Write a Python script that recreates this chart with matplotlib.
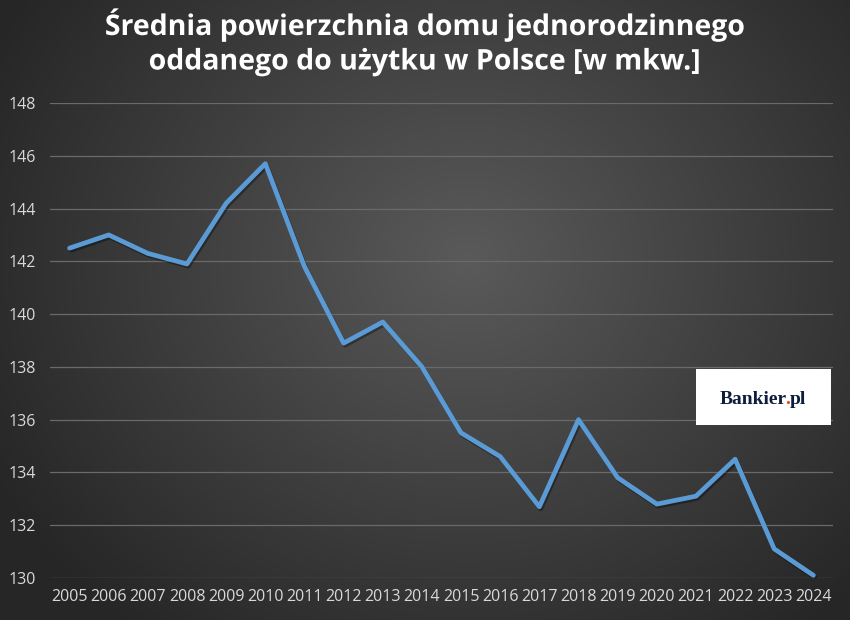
import numpy as np
import matplotlib
matplotlib.use("Agg")
import matplotlib.pyplot as plt
import matplotlib.patheffects as pe
from matplotlib.patches import Rectangle

years = ["2005", "2006", "2007", "2008", "2009", "2010", "2011", "2012", "2013", "2014",
         "2015", "2016", "2017", "2018", "2019", "2020", "2021", "2022", "2023", "2024"]
area = [142.5, 143.0, 142.3, 141.9, 144.2, 145.7, 141.8, 138.9, 139.7, 138.0,
        135.5, 134.6, 132.7, 136.0, 133.8, 132.8, 133.1, 134.5, 131.1, 130.1]
y_ticks = [130, 132, 134, 136, 138, 140, 142, 144, 146, 148]
title_lines = ["Średnia powierzchnia domu jednorodzinnego",
               "oddanego do użytku w Polsce [w mkw.]"]
logo_parts = ["Bankier", ".", "pl"]

W, H = 850, 620
fig = plt.figure(figsize=(W / 100, H / 100), dpi=100)

# radial gradient background
bg = fig.add_axes([0, 0, 1, 1], zorder=-10)
yy, xx = np.mgrid[0:H, 0:W]
cx, cy = W * 0.55, H * 0.42
r = np.sqrt(((xx - cx) / (W * 0.62)) ** 2 + ((yy - cy) / (H * 0.75)) ** 2)
r = np.clip(r, 0, 1)
c_in = np.array([0x5a, 0x5a, 0x5a]) / 255
c_out = np.array([0x27, 0x27, 0x27]) / 255
img = c_in[None, None, :] * (1 - r[..., None]) + c_out[None, None, :] * r[..., None]
bg.imshow(img, extent=[0, 1, 0, 1], aspect="auto", origin="upper")
bg.set_xlim(0, 1)
bg.set_ylim(0, 1)
bg.axis("off")

ax = fig.add_axes([50 / W, 1 - 578 / H, (833 - 50) / W, (578 - 103) / H])
ax.patch.set_alpha(0)
x = np.arange(len(years))
ax.plot(x, area, color="#5b9bd5", lw=3.4, solid_joinstyle="round", solid_capstyle="round",
        zorder=3,
        path_effects=[pe.SimpleLineShadow(offset=(1, -1.5), shadow_color="black", alpha=0.35),
                      pe.Normal()])
ax.set_xlim(-0.5, len(years) - 0.5)
ax.set_ylim(130, 148)
ax.set_yticks(y_ticks)
ax.set_yticklabels([str(v) for v in y_ticks])
ax.set_xticks(x)
ax.set_xticklabels(years)
ax.grid(axis="y", color="#6a6a6a", lw=0.9)
ax.set_axisbelow(True)
for s in ax.spines.values():
    s.set_visible(False)
ax.tick_params(length=0, colors="#d9d9d9", labelsize=11.5)
ax.tick_params(axis="y", pad=10)
ax.tick_params(axis="x", pad=8)
for lab in ax.get_xticklabels() + ax.get_yticklabels():
    lab.set_fontfamily("Open Sans")
    lab.set_color("#d9d9d9")

for line, ypx in zip(title_lines, [25, 62]):
    fig.text(0.5, 1 - ypx / H, line, ha="center", va="center",
             color="white", fontsize=20.5, fontweight="bold", fontfamily="Open Sans",
             path_effects=[pe.SimpleLineShadow(offset=(1.5, -1.5), alpha=0.5), pe.Normal()])

# logo box
fig.patches.append(Rectangle((696 / W, 1 - 425 / H), (831 - 696) / W, (425 - 369) / H,
                             transform=fig.transFigure, facecolor="white", edgecolor="none",
                             zorder=5))
fig.canvas.draw()
ren = fig.canvas.get_renderer()
kw = dict(fontsize=14, fontweight="bold", fontfamily="Liberation Serif", zorder=6,
          va="baseline", ha="left")


def width_of(s):
    tt = fig.text(0, 0, s, **kw)
    w = tt.get_window_extent(ren).width
    tt.remove()
    return w


full = "".join(logo_parts)
total = width_of(full)
x0 = 763 - total / 2
base = H - 404
colors = ["#0f1d3d", "#e8451e", "#0f1d3d"]
prefix = ""
for p, c in zip(logo_parts, colors):
    prefix += p
    px = x0 + width_of(prefix) - width_of(p)
    fig.text(px / W, base / H, p, color=c, **kw)

fig.savefig("out.png", dpi=100)
